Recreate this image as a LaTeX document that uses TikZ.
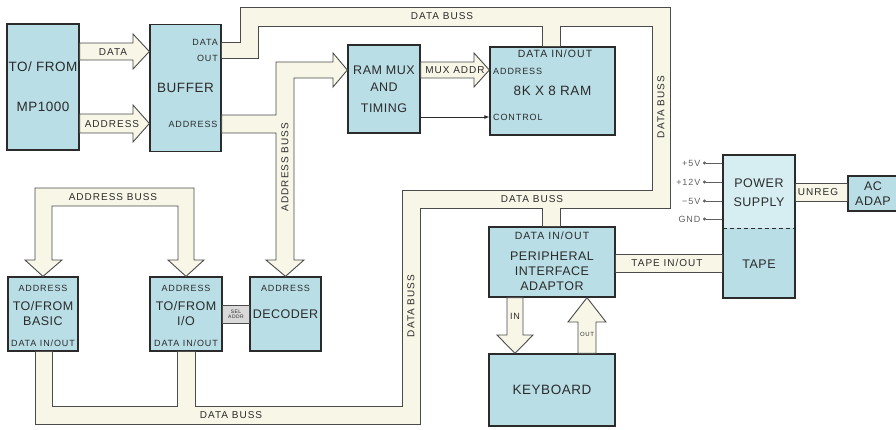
\documentclass[tikz,border=0pt]{standalone}
\usepackage{fontspec}
\setmainfont{Liberation Sans}
\newfontfamily\stencil[LetterSpace=4]{Liberation Sans}
\newfontfamily\tagfont[LetterSpace=10]{Liberation Sans}
\usetikzlibrary{arrows.meta}
\definecolor{boxcyan}{HTML}{B9DEE6}
\definecolor{psutop}{HTML}{D6EEF2}
\definecolor{bussfill}{HTML}{F8F6E6}
\definecolor{inkline}{HTML}{2B2B2B}
\begin{document}
\begin{tikzpicture}[x=1pt, y=-1pt, text=inkline,
    box/.style={draw=inkline, line width=1.3pt, fill=boxcyan, inner sep=0pt, align=center, font=\stencil\fontsize{12.5}{15}\selectfont},
    big/.style={font=\stencil\fontsize{12.5}{15}\selectfont, align=center, inner sep=0pt},
    buss/.style={draw=inkline!85, line width=0.9pt, fill=bussfill},
    tag/.style={font=\tagfont\fontsize{9}{10}\selectfont, inner sep=0pt},
    bigtag/.style={font=\tagfont\fontsize{10.5}{11}\selectfont, inner sep=0pt},
    busslabel/.style={font=\tagfont\fontsize{10}{11}\selectfont, inner sep=0pt},
    pin/.style={font=\tagfont\fontsize{9}{10}\selectfont, text=inkline!75, inner sep=2.5pt},
    pinwire/.style={{Circle[length=3pt]}-, draw=inkline!75, line width=0.7pt}]
    \useasboundingbox (0,0) rectangle (896,429);

    \node (mp) [box, minimum width=72pt, minimum height=126pt, font=\stencil\fontsize{13.5}{15}\selectfont] at (43,87) {TO/ FROM\\[25pt]MP1000};
    \node (buf) [box, minimum width=71pt, minimum height=127pt, font=\stencil\fontsize{13.5}{15}\selectfont] at (185.5,88) {BUFFER};
    \node (mux) [box, minimum width=72pt, minimum height=88pt] at (384,89) {RAM MUX\\[2pt]AND\\[6pt]TIMING};
    \node (ram) [box, minimum width=125pt, minimum height=88pt, font=\stencil\fontsize{13.5}{15}\selectfont] at (552.5,91) {8K X 8 RAM};
    \node (basic) [box, minimum width=70pt, minimum height=74pt] at (43,314) {TO/FROM\\BASIC};
    \node (io) [box, minimum width=72pt, minimum height=74pt] at (186,314) {TO/FROM\\I/O};
    \node (dec) [box, minimum width=71pt, minimum height=74pt] at (285.5,314) {DECODER};
    \node (pia) [box, minimum width=126pt, minimum height=70pt] at (552,262) {};
    \node (kbd) [box, minimum width=126pt, minimum height=72pt, font=\stencil\fontsize{13.5}{15}\selectfont] at (552,390) {KEYBOARD};
    \node (psu) [box, fill=psutop, minimum width=72pt, minimum height=143pt,
        path picture={\fill[boxcyan] ([yshift=-73pt]path picture bounding box.north west) rectangle (path picture bounding box.south east);
            \draw[inkline, line width=1pt, dash pattern=on 4pt off 3pt] ([yshift=-73pt]path picture bounding box.north west) -- ([yshift=-73pt]path picture bounding box.north east);}] at (759,226.5) {};
    \node (acad) [box, minimum width=50pt, minimum height=35pt] at (873,193.5) {AC\\ADAP};

    \node[tag, anchor=east] at (218,42) {DATA};
    \node[tag, anchor=east] at (218,58) {OUT};
    \node[tag] at (193,124) {ADDRESS};
    \node[bigtag] at (555,54) {DATA IN/OUT};
    \node[tag, anchor=west] at (493,71) {ADDRESS};
    \node[tag, anchor=west] at (493,117) {CONTROL};
    \node[tag] at (43,288) {ADDRESS};
    \node[tag] at (43,343) {DATA IN/OUT};
    \node[tag] at (186,288) {ADDRESS};
    \node[tag] at (186,343) {DATA IN/OUT};
    \node[tag] at (285.5,288) {ADDRESS};
    \node[bigtag] at (552,236) {DATA IN/OUT};
    \node[big] at (552,271) {PERIPHERAL\\INTERFACE\\ADAPTOR};
    \node[big] at (759,192.5) {POWER\\[4pt]SUPPLY};
    \node[big] at (759,264) {TAPE};

    \draw[buss] (mp.east |- 0,43) -- (133,43) -- (133,34) -- (buf.west |- 0,51.5) -- (133,69) -- (133,60) -- (mp.east |- 0,60) -- cycle;
    \draw[buss] (mp.east |- 0,114) -- (133,114) -- (133,105) -- (buf.west |- 0,123.5) -- (133,142) -- (133,133) -- (mp.east |- 0,133) -- cycle;
    \draw[buss] (mux.east |- 0,62) -- (474,62) -- (474,53) -- (ram.west |- 0,70) -- (474,87) -- (474,78) -- (mux.east |- 0,78) -- cycle;
    \draw[-{Latex[length=5pt,width=4pt]}, draw=inkline, line width=0.8pt] (mux.east |- 0,117) -- (ram.west |- 0,117);
    \draw[buss] (buf.east |- 0,115) -- (276,115) -- (276,62) -- (333,62) -- (333,53) -- (mux.west |- 0,70) -- (333,87) -- (333,78) -- (294,78) -- (294,260) -- (304,260) -- (dec.north) -- (266,260) -- (276,260) -- (276,133) -- (buf.east |- 0,133) -- cycle;
    \draw[buss] (basic.north) -- (25,260) -- (35,260) -- (35,188) -- (194,188) -- (194,260) -- (204,260) -- (io.north) -- (168,260) -- (178,260) -- (178,206) -- (52,206) -- (52,260) -- (62,260) -- cycle;
    \draw[buss] (buf.east |- 0,42) -- (240,42) -- (240,7) -- (670,7) -- (670,208) -- (560,208) -- (pia.north -| 560,0) -- (pia.north -| 542,0) -- (542,208) -- (420,208) -- (420,424) -- (35,424) -- (basic.south -| 35,0) -- (basic.south -| 52,0) -- (52,406) -- (177,406) -- (io.south -| 177,0) -- (io.south -| 195,0) -- (195,406) -- (402,406) -- (402,190) -- (652,190) -- (652,26) -- (560,26) -- (ram.north -| 560,0) -- (ram.north -| 542,0) -- (542,26) -- (258,26) -- (258,58) -- (buf.east |- 0,58) -- cycle;
    \draw[buss] (pia.south -| 507,0) -- (507,335) -- (497,335) -- (kbd.north -| 515,0) -- (533,335) -- (523,335) -- (pia.south -| 523,0) -- cycle;
    \draw[buss] (kbd.north -| 578,0) -- (578,322) -- (568,322) -- (pia.south -| 587,0) -- (606,322) -- (596,322) -- (kbd.north -| 596,0) -- cycle;
    \draw[buss] (pia.east |- 0,254) rectangle (psu.west |- 0,272);
    \draw[buss] (psu.east |- 0,183) rectangle (acad.west |- 0,201);
    \draw[buss, fill=gray!30] (io.east |- 0,305) rectangle (dec.west |- 0,323);

    \foreach \py/\plab/\pn in {163/+5V/pa, 182/+12V/pb, 201/−5V/pc, 219/GND/pd} {
        \node (\pn) [pin, anchor=east] at (703,\py) {\plab};
        \draw[pinwire] (\pn.east) -- (psu.west |- \pn.east);
    }

    \node[busslabel] at (442,16.5) {DATA BUSS};
    \node[busslabel] at (532,199) {DATA BUSS};
    \node[busslabel] at (231,415) {DATA BUSS};
    \node[busslabel] at (113,197) {ADDRESS BUSS};
    \node[busslabel, rotate=90] at (285,167) {ADDRESS BUSS};
    \node[busslabel, rotate=90] at (661,107) {DATA BUSS};
    \node[busslabel, rotate=90] at (411,306) {DATA BUSS};
    \node[busslabel] at (113,52) {DATA};
    \node[busslabel] at (112,124) {ADDRESS};
    \node[busslabel] at (455,70) {MUX ADDR};
    \node[busslabel] at (667,263) {TAPE IN/OUT};
    \node[busslabel] at (818,192) {UNREG};
    \node[tag] at (515,316) {IN};
    \node[tag, font=\tagfont\fontsize{6}{7}\selectfont] at (587,334) {OUT};
    \node[font=\tagfont\fontsize{5}{5.5}\selectfont, align=center, inner sep=0pt] at (236,314) {SEL\\ADDR};
\end{tikzpicture}
\end{document}
